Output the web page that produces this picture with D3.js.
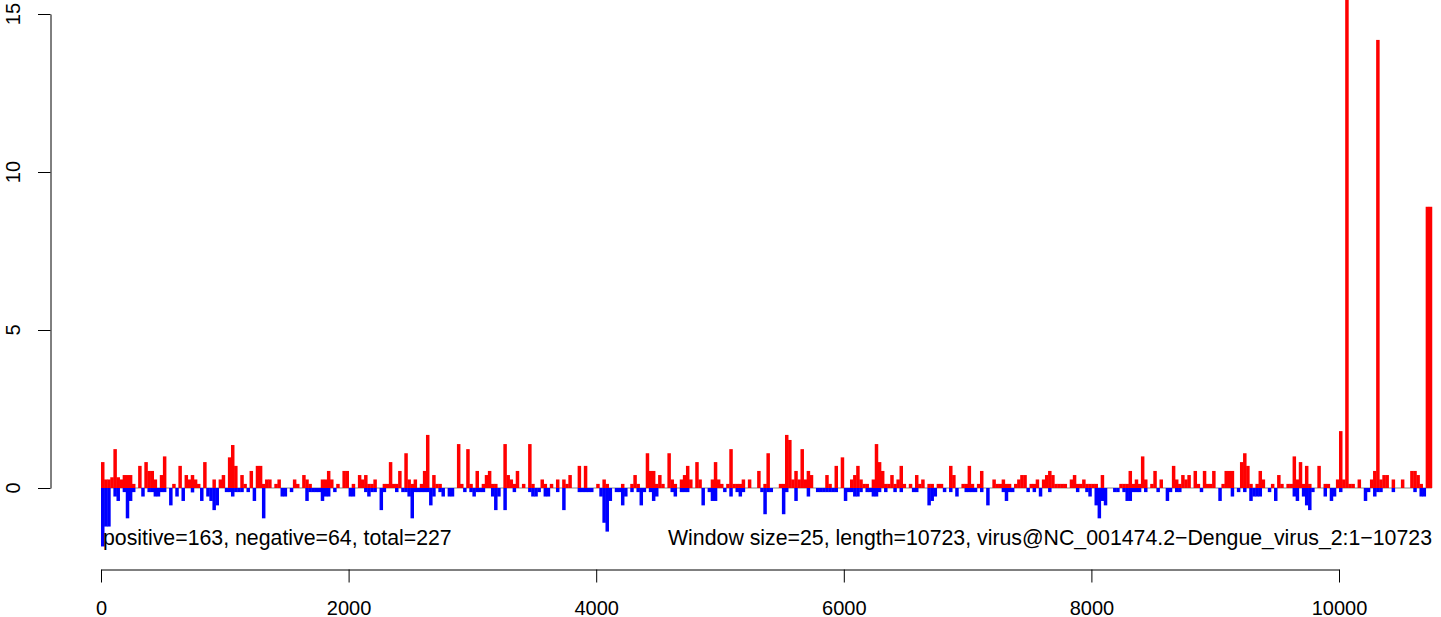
<!DOCTYPE html>
<meta charset="utf-8">
<style>
body { margin: 0; background: #fff; }
svg { display: block; font-family: "Liberation Sans", Arial, sans-serif; }
.axis path, .axis line { stroke: #000; stroke-width: 1px; }
.axis text { font-size: 20px; fill: #000; }
.note { font-size: 21.3px; fill: #000; }
.ylab { font-size: 20px; fill: #000; }
</style>
<svg width="1441" height="617"></svg>
<script src="https://d3js.org/d3.v7.min.js"></script>
<script>

// window size 25 bp, one value per window (index * 25 = window start)
var windowSize = 25;

var posValues = [
  0.82,0.27,0.27,0.34,1.23,0.34,0.27,0.41,0.41,0.41,
  0.13,0,0.7,0,0.82,0.54,0.54,0.27,0,0.41,
  1.0,0,0,0.13,0,0.7,0,0.41,0.27,0.41,
  0.27,0.13,0,0.82,0,0,0.27,0,0.27,0.41,
  0,0.97,1.36,0.7,0,0.41,0.13,0,0.54,0,
  0.7,0.7,0.13,0.27,0.27,0,0.13,0.27,0,0,
  0,0,0.27,0.13,0,0.41,0.27,0.13,0,0,
  0,0.27,0.27,0.54,0.27,0,0.13,0,0.54,0.54,
  0,0.13,0,0.41,0.27,0.41,0.13,0.13,0.27,0,
  0,0.13,0.13,0.82,0.13,0.13,0.54,0,1.1,0.27,
  0.13,0.27,0,0.13,0.54,1.68,0,0.41,0.13,0.13,
  0,0,0,0,0,1.39,0.13,0,1.23,0.13,
  0,0.54,0,0.13,0.41,0.54,0.13,0.13,0,0,
  1.39,0.41,0.27,0.13,0.54,0,0.13,0,1.39,0.13,
  0,0,0.27,0.13,0,0.13,0,0.27,0,0.27,
  0.13,0.41,0,0,0.7,0,0.7,0,0,0,
  0.13,0,0.27,0.13,0,0,0,0,0.13,0,
  0,0.13,0.41,0.13,0,0,1.1,0.54,0.54,0.13,
  0.41,0.13,0,1.1,0.27,0.13,0,0.27,0.41,0.7,
  0.27,0,0.82,0.27,0,0,0,0.27,0.82,0.27,
  0.13,0,0.13,1.23,0.13,0.13,0.13,0.27,0,0.27,
  0,0,0.54,0,0.13,1.1,0,0,0,0.13,
  0.13,1.68,1.52,0.27,0.54,0.27,1.23,0.27,0.54,0.41,
  0,0,0,0,0.41,0.13,0,0.7,0,0.97,
  0,0,0.27,0.41,0.7,0.27,0.13,0.13,0,0.27,
  1.39,0.82,0.54,0.13,0.13,0.41,0.13,0.27,0.7,0.13,
  0,0.13,0,0.41,0.13,0.27,0,0.13,0.13,0,
  0.13,0.13,0,0,0.7,0.41,0,0,0.13,0.13,
  0.7,0.13,0,0.13,0.54,0,0,0,0.27,0.13,
  0.13,0.27,0.13,0.13,0,0.13,0.27,0.41,0.41,0,
  0.13,0.13,0.27,0,0.27,0.41,0.54,0.41,0.13,0.13,
  0.13,0.13,0,0.27,0.41,0.13,0.13,0.27,0.13,0.13,
  0.13,0.13,0,0.41,0,0,0,0,0,0.13,
  0.13,0.13,0.54,0.13,0.27,0.13,1.0,0.27,0,0.13,
  0.54,0,0.27,0,0,0,0.7,0.27,0.13,0.41,
  0.27,0.41,0,0.54,0.13,0,0.54,0.13,0.13,0.54,
  0,0,0.13,0.54,0.54,0.54,0,0,0.82,1.1,
  0.7,0.13,0,0.13,0.54,0.27,0,0,0.13,0,
  0.41,0.13,0,0.13,0.13,1.0,0.27,0.82,0.13,0.7,
  0.13,0,0,0.7,0,0.13,0.13,0,0,0.27,
  1.8,0.27,16.5,0.13,0.13,0,0.27,0,0,0,
  0.27,0.54,14.18,0.27,0.41,0.41,0,0.27,0,0,
  0.27,0,0,0.54,0.54,0.41,0.13,0,8.9,8.9
];

var negValues = [
  -1.85,-1.22,-1.22,0,-0.27,-0.41,0,-0.13,-0.96,-0.41,
  -0.13,0,0,-0.27,0,-0.13,-0.13,-0.27,-0.27,-0.13,
  -0.13,0,-0.55,0,-0.27,0,-0.41,0,0,-0.14,
  0,0,-0.41,0,-0.27,-0.41,-0.7,-0.55,0,0,
  -0.13,-0.13,-0.27,-0.13,-0.13,-0.13,0,-0.13,0,-0.41,
  0,0,-0.96,0,0,0,0,0,-0.27,-0.27,
  0,-0.13,0,0,0,0,-0.41,-0.13,-0.13,-0.13,
  -0.13,-0.41,-0.27,-0.27,0,-0.13,0,0,0,0,
  -0.27,-0.27,0,0,0,-0.13,-0.27,-0.13,-0.13,0,
  -0.7,-0.13,0,0,0,-0.13,0,-0.13,-0.13,-0.27,
  -0.96,-0.13,-0.13,-0.13,-0.13,-0.13,-0.55,-0.27,0,-0.13,
  -0.27,0,-0.27,-0.27,0,0,0,-0.13,0,-0.13,
  -0.27,-0.13,-0.13,-0.13,0,0,-0.27,-0.7,-0.27,0,
  -0.7,0,0,-0.13,0,0,0,0,-0.13,-0.27,
  -0.27,-0.13,0,-0.27,-0.27,0,0,-0.13,0,-0.7,
  0,0,0,0,-0.13,-0.13,-0.13,-0.13,-0.13,0,
  0,-0.27,-1.1,-1.38,-0.41,0,-0.13,-0.13,-0.55,-0.27,
  0,-0.13,0,-0.13,-0.55,-0.13,0,-0.13,-0.41,-0.27,
  0,0,0,0,-0.13,-0.27,0,-0.13,-0.13,-0.13,
  0,0,0,0,-0.55,0,-0.13,-0.41,-0.41,0,
  0,-0.13,0,-0.27,0,-0.13,-0.27,-0.13,0,0,
  0,0,0,-0.13,-0.83,-0.13,-0.13,0,0,0,
  -0.83,-0.13,0,0,-0.41,0,0,0,-0.27,0,
  0,-0.13,-0.13,-0.13,-0.13,-0.13,-0.13,-0.13,0,0,
  -0.41,-0.13,-0.13,-0.27,-0.27,-0.13,0,-0.13,-0.13,-0.27,
  -0.27,-0.13,0,-0.13,0,0,-0.13,0,-0.13,0,
  0,0,-0.13,-0.13,0,0,0,-0.55,-0.41,-0.27,
  0,0,-0.13,0,-0.13,0,-0.27,0,0,-0.13,
  -0.13,-0.13,-0.13,0,-0.13,0,-0.55,0,0,0,
  0,-0.13,-0.41,-0.13,-0.13,0,0,0,0,-0.13,
  0,-0.13,0,-0.27,0,0,-0.13,0,0,0,
  0,0,0,0,0,-0.13,0,0,-0.13,-0.27,
  0,-0.55,-0.96,-0.41,-0.55,0,0,-0.13,-0.13,0,
  -0.13,-0.41,-0.41,-0.13,-0.13,-0.13,0,-0.13,0,0,
  0,-0.13,0,0,-0.41,-0.13,0,-0.13,-0.13,0,
  0,0,0,0,0,-0.13,0,0,0,0,
  0,-0.41,0,0,0,-0.27,0,-0.13,0,-0.13,
  0,-0.41,-0.27,-0.27,-0.27,0,0,-0.13,0,-0.41,
  0,0,0,0,0,-0.27,-0.41,0,-0.27,-0.55,
  -0.7,-0.13,0,0,0,-0.27,0,-0.41,-0.27,0,
  -0.13,0,0,0,0,0,0,0,-0.41,-0.13,
  0,-0.27,-0.13,-0.13,0,0,0,-0.13,0,0,
  0,0,0,0,-0.13,0,-0.27,-0.27,0,0
];

var xTicks = [0, 2000, 4000, 6000, 8000, 10000];
var yTicks = [0, 5, 10, 15];
var leftNote = "positive=163, negative=64, total=227";
var rightNote = "Window size=25, length=10723, virus@NC_001474.2\u2212Dengue_virus_2:1\u221210723";

var svg = d3.select("svg");

var x = d3.scaleLinear().domain([0, 10000]).range([101, 1339]);
var y = d3.scaleLinear().domain([0, 15]).range([488, 14]);

var barW = x(windowSize) - x(0);

// keep the window index with each value so filtering does not shift bars
var pos = posValues.map(function(v, i) { return {start: i * windowSize, v: v}; })
    .filter(function(d) { return d.v > 0; });
var neg = negValues.map(function(v, i) { return {start: i * windowSize, v: v}; })
    .filter(function(d) { return d.v < 0; });

// zero line
svg.append("line")
    .attr("x1", x(0)).attr("x2", x(10750))
    .attr("y1", y(0)).attr("y2", y(0))
    .attr("stroke", "#888").attr("stroke-width", 1);

svg.append("g").selectAll("rect")
    .data(pos)
  .enter().append("rect")
    .attr("x", function(d) { return x(d.start); })
    .attr("y", function(d) { return y(d.v); })
    .attr("width", barW + 0.4)
    .attr("height", function(d) { return y(0) - y(d.v); })
    .attr("fill", "#ff0000");

svg.append("g").selectAll("rect")
    .data(neg)
  .enter().append("rect")
    .attr("x", function(d) { return x(d.start); })
    .attr("y", y(0))
    .attr("width", barW + 0.4)
    .attr("height", function(d) { return y(d.v) - y(0); })
    .attr("fill", "#0000ff");

// x axis
svg.append("g")
    .attr("class", "axis")
    .attr("transform", "translate(0,569.5)")
    .call(d3.axisBottom(x).tickValues(xTicks).tickSize(13).tickSizeOuter(0)
      .tickPadding(18).tickFormat(d3.format("d")));

// y axis (labels drawn separately, rotated like R)
svg.append("g")
    .attr("class", "axis")
    .attr("transform", "translate(50.5,0)")
    .call(d3.axisLeft(y).tickValues(yTicks).tickSize(12.5).tickSizeOuter(0).tickFormat(""));

svg.append("g").selectAll("text")
    .data(yTicks)
  .enter().append("text")
    .attr("class", "ylab")
    .attr("text-anchor", "middle")
    .attr("transform", function(d) { return "translate(20," + y(d) + ") rotate(-90)"; })
    .text(function(d) { return d; });

svg.selectAll(".axis").attr("font-size", null).attr("font-family", null);

svg.append("text")
    .attr("class", "note")
    .attr("x", 103).attr("y", 544.5)
    .text(leftNote);

svg.append("text")
    .attr("class", "note")
    .attr("x", 1432).attr("y", 544.5)
    .attr("text-anchor", "end")
    .text(rightNote);

</script>
